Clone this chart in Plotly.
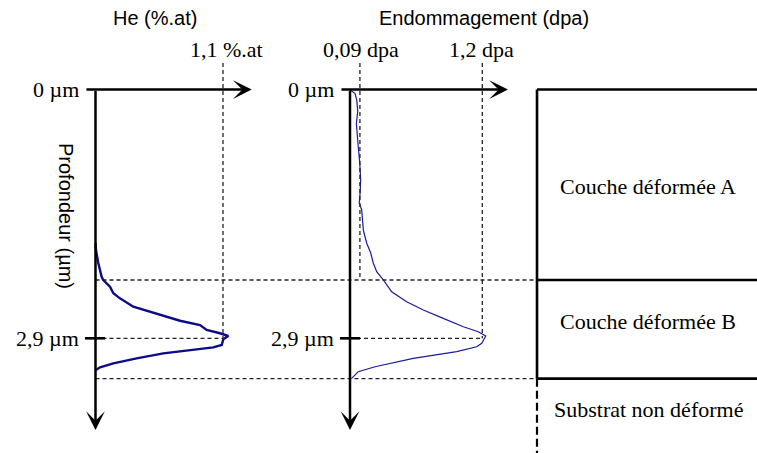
import plotly.graph_objects as go

W, H = 757, 453

# ---------------- data ----------------
# He concentration profile (%.at) vs depth (µm)
he_depth = [1.789, 1.871, 2.022, 2.182, 2.220, 2.298, 2.375, 2.434, 2.531, 2.578, 2.655, 2.695,
            2.745, 2.803, 2.841, 2.873, 2.911, 2.978, 3.005, 3.036, 3.075, 3.133, 3.191, 3.238, 3.269]
he_value = [0.000, 0.004, 0.024, 0.053, 0.067, 0.125, 0.154, 0.211, 0.326, 0.442, 0.614, 0.729,
            0.902, 0.959, 1.074, 1.146, 1.103, 1.089, 1.016, 0.844, 0.585, 0.355, 0.154, 0.039, 0.004]

# Damage profile (dpa) vs depth (µm)
dpa_depth = [0.006, 0.044, 0.122, 0.250, 0.400, 0.472, 0.580, 0.667, 0.850, 1.055, 1.200, 1.323, 1.404,
             1.520, 1.638, 1.789, 1.906, 2.022, 2.124, 2.220, 2.357, 2.473, 2.570, 2.667, 2.765,
             2.823, 2.873, 2.958, 2.998, 3.056, 3.133, 3.231, 3.289, 3.366]
dpa_value = [0.000, 0.045, 0.061, 0.070, 0.058, 0.061, 0.072, 0.075, 0.088, 0.097, 0.092, 0.084, 0.106,
             0.112, 0.121, 0.151, 0.188, 0.211, 0.242, 0.302, 0.378, 0.514, 0.665, 0.846, 1.028,
             1.164, 1.231, 1.195, 1.149, 0.968, 0.574, 0.227, 0.075, 0.015]

he_ref = 1.1          # %.at
dpa_refs = [0.09, 1.2]  # dpa
peak_depth = 2.9      # µm
layer_bounds = [0.0, 2.22, 3.37]   # µm
layer_labels = ["Couche déformée A", "Couche déformée B", "Substrat non déformé"]
layer_label_depth = [1.125, 2.70, 3.735]
axis_end_depth = 3.968

# ---------------- figure ----------------
NAVY = "#0c0c8a"
SERIF = "Liberation Serif, Times New Roman, serif"
SANS = "Liberation Sans, Arial, sans-serif"
DASH = "4px,3px"
DGREY = "#222222"
SERIF_SIZE = 22
SANS_SIZE = 20

def px(xp):  # pixel -> paper x
    return xp / W

def py(yp):  # pixel -> paper y
    return 1 - yp / H

fig = go.Figure()
fig.add_trace(go.Scatter(x=he_value, y=he_depth, xaxis="x", yaxis="y", mode="lines",
                         line=dict(color=NAVY, width=2.4), hoverinfo="skip"))
fig.add_trace(go.Scatter(x=dpa_value, y=dpa_depth, xaxis="x2", yaxis="y", mode="lines",
                         line=dict(color="#1a1aa0", width=1.2), hoverinfo="skip"))

shapes = []
def line(x0, y0, x1, y1, xref, yref="y", color="black", width=1.3, dash=None, layer="above"):
    d = dict(type="line", x0=x0, y0=y0, x1=x1, y1=y1, xref=xref, yref=yref, layer=layer,
             line=dict(color=color, width=width))
    if dash:
        d["line"]["dash"] = dash
    shapes.append(d)

top_dash = -0.309
# He reference dashed lines
line(he_ref, top_dash, he_ref, peak_depth, "x", color=DGREY, dash=DASH)
line(0, peak_depth, he_ref, peak_depth, "x", color=DGREY, dash=DASH)
# dpa reference dashed lines
line(dpa_refs[0], top_dash, dpa_refs[0], layer_bounds[1], "x2", color=DGREY, dash=DASH)
line(dpa_refs[1], top_dash, dpa_refs[1], peak_depth, "x2", color=DGREY, dash=DASH)
line(0, peak_depth, dpa_refs[1], peak_depth, "x2", color=DGREY, dash=DASH)
# long horizontal dashed lines across to the layer panel
for b in layer_bounds[1:]:
    line(px(95.5), b, px(537), b, "paper", color=DGREY, dash=DASH)

# right layer panel
line(px(537), layer_bounds[0], px(537), layer_bounds[2], "paper", width=2.6)
line(px(537), layer_bounds[2], px(537), 4.3, "paper", width=2.2, dash="8px,4px")
for b in layer_bounds:
    line(px(537), b, 1.0, b, "paper", width=2.6)

# 2.9 µm ticks
line(-0.091, peak_depth, 0.082, peak_depth, "x", width=2.6)
line(-0.091, peak_depth, 0.091, peak_depth, "x2", width=2.6)
fig.update_layout(shapes=shapes)

ann = []
def arrow(x, y, ax, ay, xref):
    ann.append(dict(x=x, y=y, ax=ax, ay=ay, xref=xref, yref="y", axref=xref, ayref="y",
                    showarrow=True, arrowhead=3, arrowsize=1.25, arrowwidth=2.5,
                    arrowcolor="black", text="", standoff=0))

arrow(1.348, 0, -0.091, 0, "x")
arrow(0, axis_end_depth, 0, 0, "x")
arrow(1.433, 0, -0.091, 0, "x2")
arrow(0, axis_end_depth, 0, 0, "x2")

def text(t, x, y, xref="paper", yref="paper", xanchor="center", font=SERIF, size=SERIF_SIZE, angle=0):
    ann.append(dict(text=t, x=x, y=y, xref=xref, yref=yref, xanchor=xanchor, yanchor="middle",
                    showarrow=False, textangle=angle,
                    font=dict(family=font, size=size, color="black")))

text("He (%.at)", px(155), py(18), font=SANS, size=SANS_SIZE)
text("Endommagement (dpa)", px(484), py(18), font=SANS, size=SANS_SIZE)
text("1,1 %.at", px(226), py(49))
text("0,09 dpa", px(361), py(49))
text("1,2 dpa", px(482), py(49))
text("0 µm", px(81), 0, yref="y", xanchor="right")
text("2,9 µm", px(81), peak_depth, yref="y", xanchor="right")
text("0 µm", px(336), 0, yref="y", xanchor="right")
text("2,9 µm", px(336), peak_depth, yref="y", xanchor="right")
text("Profondeur (µm)", px(66), py(216), font=SANS, size=SANS_SIZE, angle=90)
for lab, d in zip(layer_labels, layer_label_depth):
    text(lab, px(648), d, yref="y")

fig.update_layout(
    annotations=ann,
    width=W, height=H,
    margin=dict(l=0, r=0, t=0, b=0),
    paper_bgcolor="white", plot_bgcolor="white",
    showlegend=False,
    xaxis=dict(range=[-95.5 / 115.9, (W - 95.5) / 115.9], visible=False, domain=[0, 1]),
    xaxis2=dict(range=[-350 / 110.25, (W - 350) / 110.25], visible=False, overlaying="x"),
    yaxis=dict(range=[(H - 89.5) / 85.8, -89.5 / 85.8], visible=False, domain=[0, 1]),
)

fig.write_html("out.html")
